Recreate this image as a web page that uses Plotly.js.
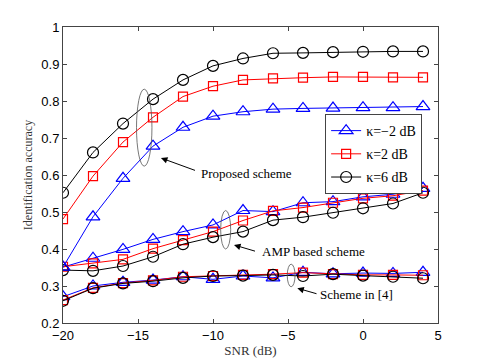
<!DOCTYPE html>
<html>
<head>
<meta charset="utf-8">
<script src="https://cdn.plot.ly/plotly-3.0.1.min.js"></script>
<style>
  html, body { margin: 0; padding: 0; background: #fff; }
  #chart { width: 485px; height: 364px; }
</style>
</head>
<body>
<div id="chart"></div>
<script>
const snr = [-20, -18, -16, -14, -12, -10, -8, -6, -4, -2, 0, 2, 4];

// proposed scheme
const propM2 = [0.351, 0.487, 0.591, 0.678, 0.729, 0.759, 0.771, 0.778, 0.780, 0.781, 0.782, 0.782, 0.785];
const prop2  = [0.481, 0.597, 0.689, 0.756, 0.812, 0.840, 0.857, 0.861, 0.863, 0.865, 0.865, 0.864, 0.864];
const prop6  = [0.552, 0.661, 0.739, 0.805, 0.857, 0.895, 0.915, 0.929, 0.930, 0.932, 0.933, 0.934, 0.934];

// AMP based scheme
const ampM2 = [0.351, 0.375, 0.399, 0.426, 0.447, 0.465, 0.504, 0.501, 0.525, 0.528, 0.541, 0.548, 0.564];
const amp2  = [0.352, 0.361, 0.372, 0.401, 0.424, 0.447, 0.477, 0.503, 0.512, 0.525, 0.537, 0.544, 0.558];
const amp6  = [0.343, 0.341, 0.354, 0.379, 0.413, 0.432, 0.447, 0.478, 0.486, 0.498, 0.510, 0.523, 0.552];

// scheme in [4]
const refM2 = [0.271, 0.300, 0.310, 0.316, 0.325, 0.318, 0.327, 0.322, 0.337, 0.333, 0.335, 0.334, 0.337];
const ref2  = [0.262, 0.295, 0.308, 0.315, 0.325, 0.327, 0.330, 0.332, 0.336, 0.332, 0.330, 0.330, 0.329];
const ref6  = [0.260, 0.294, 0.307, 0.313, 0.322, 0.327, 0.328, 0.330, 0.327, 0.332, 0.328, 0.325, 0.321];

const names = ["κ=−2 dB", "κ=2 dB", "κ=6 dB"];
const colors = ["#0000ff", "#ff0000", "#000000"];
const symbols = ["triangle-up-open", "square-open", "circle-open"];
const sizes = [12, 9, 11];

function mk(y, i, show) {
    return {
        x: snr, y: y, type: "scatter", mode: "lines+markers",
        name: names[i], legendgroup: names[i], showlegend: show,
        line: {color: colors[i], width: 1},
        marker: {symbol: symbols[i], size: sizes[i], color: colors[i], line: {width: 1.2, color: colors[i]}}
    };
}

const plotData = [
    mk(refM2, 0, false), mk(ref2, 1, false), mk(ref6, 2, false),
    mk(ampM2, 0, false), mk(amp2, 1, false), mk(amp6, 2, false),
    mk(propM2, 0, true), mk(prop2, 1, true), mk(prop6, 2, true)
];

const serif = "Liberation Serif, Times New Roman, serif";
const ell = {type: "circle", xref: "x", yref: "y", line: {color: "#555", width: 0.8}};

function arrow(x, y, ax, ay) {
    return {x: x, y: y, ax: ax, ay: ay, axref: "x", ayref: "y", text: "",
        showarrow: true, arrowhead: 2, arrowsize: 1.3, arrowwidth: 1, arrowcolor: "#000"};
}
function label(x, y, t) {
    return {x: x, y: y, text: t, showarrow: false, xanchor: "left", yanchor: "middle",
        font: {family: serif, size: 13, color: "#000"}};
}

const axisCommon = {
    showgrid: false, zeroline: false, showline: true, linecolor: "#444", linewidth: 1,
    mirror: "ticks", ticks: "inside", ticklen: 4, tickcolor: "#444",
    tickfont: {family: "Liberation Sans, Arial, sans-serif", size: 13, color: "#000"}
};

const layout = {
    width: 485, height: 364,
    margin: {l: 63, r: 47, t: 27, b: 41},
    paper_bgcolor: "#fff", plot_bgcolor: "#fff",
    showlegend: true,
    xaxis: Object.assign({}, axisCommon, {
        range: [-20, 5], tickvals: [-20, -15, -10, -5, 0, 5],
        title: {text: "SNR (dB)", font: {family: serif, size: 13, color: "#333"}, standoff: 4}
    }),
    yaxis: Object.assign({}, axisCommon, {
        range: [0.2, 1], tickvals: [0.2, 0.3, 0.4, 0.5, 0.6, 0.7, 0.8, 0.9, 1], ticktext: ["0.2","0.3","0.4","0.5","0.6","0.7","0.8","0.9","1"],
        title: {text: "Identification accuracy", font: {family: serif, size: 12, color: "#333"}, standoff: 6}
    }),
    legend: {
        x: 0.699, y: 0.706, xanchor: "left", yanchor: "top",
        bgcolor: "#fff", bordercolor: "#444", borderwidth: 1,
        font: {family: serif, size: 14, color: "#000"},
        tracegroupgap: 2
    },
    shapes: [
        Object.assign({x0: -15.1, x1: -14.07, y0: 0.624, y1: 0.832}, ell),
        Object.assign({x0: -9.49, x1: -8.82, y0: 0.400, y1: 0.504}, ell),
        Object.assign({x0: -5.05, x1: -4.53, y0: 0.298, y1: 0.359}, ell)
    ],
    annotations: [
        arrow(-13.47, 0.646, -11.1, 0.611),
        arrow(-8.6, 0.411, -7.1, 0.393),
        arrow(-4.38, 0.294, -3.0, 0.278),
        label(-10.95, 0.605, "Proposed scheme"),
        label(-6.85, 0.392, "AMP based scheme"),
        label(-3.0, 0.276, "Scheme in [4]")
    ]
};

Plotly.newPlot("chart", plotData, layout, {displayModeBar: false, responsive: false});
</script>
</body>
</html>
